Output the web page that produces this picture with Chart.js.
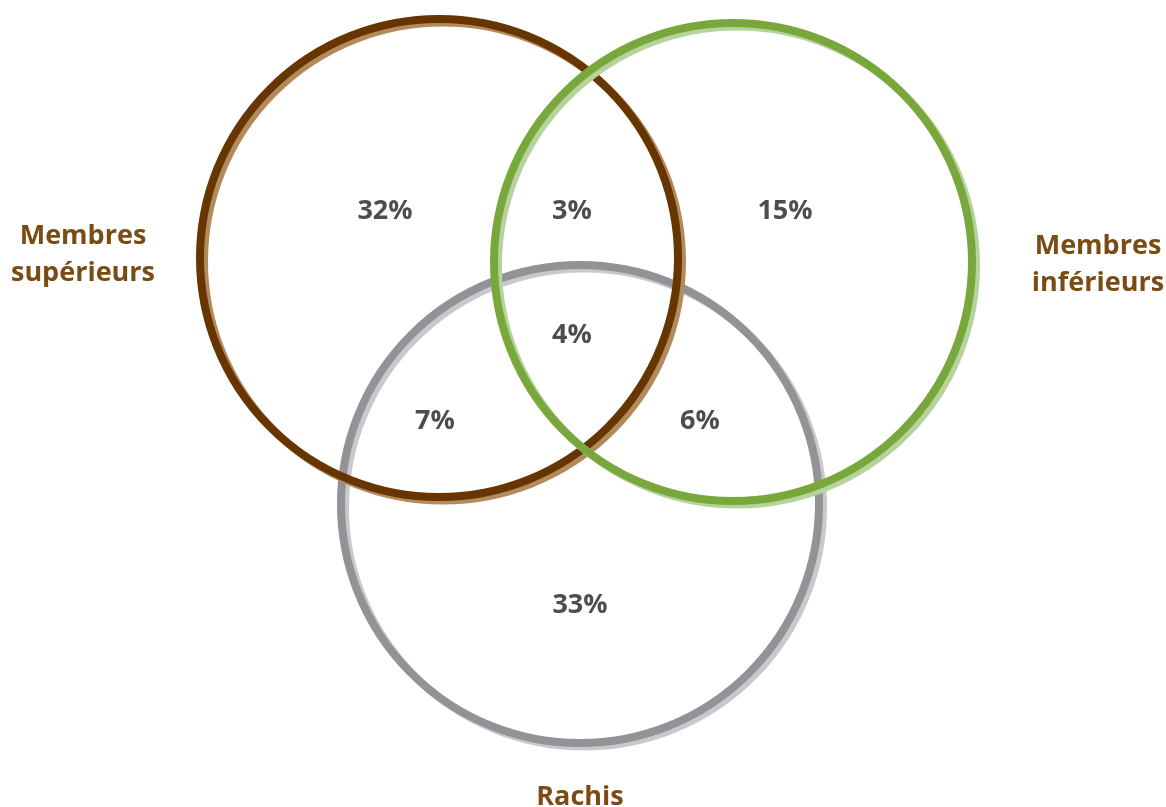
<!DOCTYPE html>
<html lang="fr">
<head>
<meta charset="utf-8">
<title>Localisation</title>
<script src="https://cdn.jsdelivr.net/npm/chart.js@4"></script>
<style>
  html, body { margin: 0; padding: 0; background: #fff; }
  #wrap { width: 1166px; height: 807px; }
</style>
</head>
<body>
<div id="wrap"><canvas id="venn" width="1166" height="807"></canvas></div>
<script>
// --- DATA ---
const setNames = [['Membres', 'supérieurs'], ['Membres', 'inférieurs'], ['Rachis']];
const setCenterX = [4.39, 7.33, 5.80];
const setCenterY = [5.49, 5.45, 3.03];
const setRadius = [2.39, 2.39, 2.39];
const setLabelX = [0.83, 10.98, 5.80];
const setLabelY = [5.52, 5.425, 0.10];

const regionValues = ['32%', '3%', '15%', '4%', '7%', '6%', '33%'];
const regionX = [3.85, 5.72, 7.85, 5.72, 4.35, 7.00, 5.80];
const regionY = [5.96, 5.96, 5.96, 4.72, 3.86, 3.86, 2.02];

// --- STYLES ---
const darkColors = ['#663500', '#78a83b', '#929297'];
const lightColors = ['#b38a5c', '#b5d39a', '#c8c9cd'];
const drawOrder = [1, 0, 2]; // green on top, then brown, then grey
const labelColor = '#7b4b14';
const valueColor = '#4d4d4f';
const fontFamily = '"Open Sans", Roboto, sans-serif';

function radiusPx(chart, r) {
    const s = chart.scales.x;
    return s.getPixelForValue(r) - s.getPixelForValue(0);
}

// Two datasets per circle: light offset ring under the dark ring
const datasets = [];
setNames.forEach((name, i) => {
    const base = {
        data: [{ x: setCenterX[i], y: setCenterY[i] }],
        pointStyle: 'circle',
        backgroundColor: 'rgba(0,0,0,0)',
        borderWidth: 8,
        pointRadius: c => radiusPx(c.chart, setRadius[i]),
        pointHoverRadius: c => radiusPx(c.chart, setRadius[i]),
        pointHoverBorderWidth: 8
    };
    datasets.push(Object.assign({}, base, {
        label: name.join(' ') + ' (ombre)',
        shadow: true,
        borderColor: lightColors[i],
        pointHoverBorderColor: lightColors[i],
        order: drawOrder[i] * 2 + 1
    }));
    datasets.push(Object.assign({}, base, {
        label: name.join(' '),
        borderColor: darkColors[i],
        pointHoverBorderColor: darkColors[i],
        order: drawOrder[i] * 2
    }));
});

// Offset for the light rings
const shadowPlugin = {
    id: 'shadowRing',
    beforeDatasetDraw(chart, args) {
        if (!chart.data.datasets[args.index].shadow) return;
        chart.ctx.save();
        chart.ctx.translate(4, 3.5);
    },
    afterDatasetDraw(chart, args) {
        if (!chart.data.datasets[args.index].shadow) return;
        chart.ctx.restore();
    }
};

// Percentages and set names
const textPlugin = {
    id: 'vennText',
    afterDatasetsDraw(chart) {
        const ctx = chart.ctx;
        const sx = chart.scales.x, sy = chart.scales.y;
        ctx.save();
        ctx.textAlign = 'center';
        ctx.textBaseline = 'middle';

        ctx.fillStyle = valueColor;
        ctx.font = 'bold 27px ' + fontFamily;
        regionValues.forEach((v, i) => {
            ctx.fillText(v, sx.getPixelForValue(regionX[i]), sy.getPixelForValue(regionY[i]));
        });

        ctx.fillStyle = labelColor;
        ctx.font = 'bold 27px ' + fontFamily;
        setNames.forEach((lines, i) => {
            const x = sx.getPixelForValue(setLabelX[i]);
            const y0 = sy.getPixelForValue(setLabelY[i]);
            const lh = 37;
            const top = y0 - (lines.length - 1) * lh / 2;
            lines.forEach((ln, k) => ctx.fillText(ln, x, top + k * lh));
        });
        ctx.restore();
    }
};

new Chart(document.getElementById('venn').getContext('2d'), {
    type: 'scatter',
    data: { datasets: datasets },
    options: {
        responsive: false,
        animation: false,
        events: [],
        layout: { padding: 0 },
        plugins: {
            legend: { display: false },
            tooltip: { enabled: false }
        },
        scales: {
            x: { type: 'linear', min: 0, max: 11.66, display: false },
            y: { type: 'linear', min: 0, max: 8.07, display: false }
        }
    },
    plugins: [shadowPlugin, textPlugin]
});
</script>
</body>
</html>
